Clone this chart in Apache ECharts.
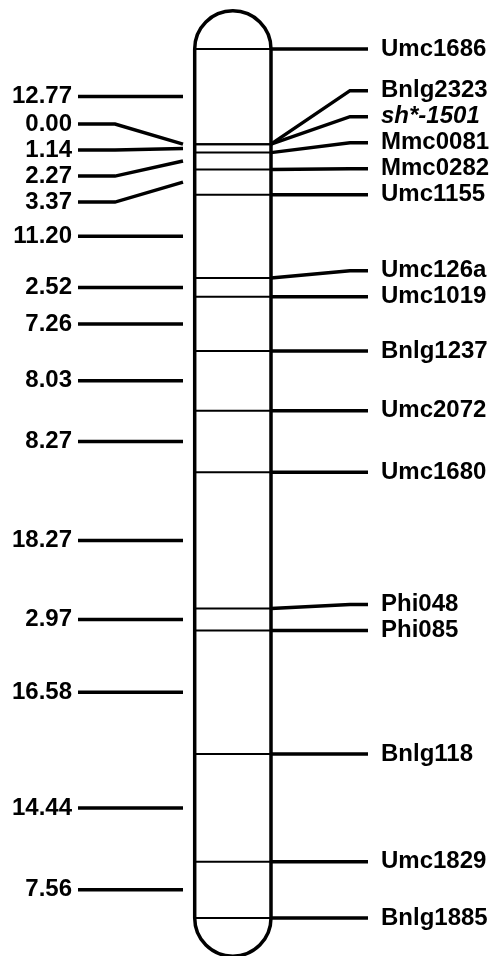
<!DOCTYPE html>
<html>
<head>
<meta charset="utf-8">
<script src="https://cdn.jsdelivr.net/npm/echarts@6/dist/echarts.min.js"></script>
<style>
  html, body { margin: 0; padding: 0; background: #fff; }
  #chart { width: 491px; height: 956px; }
</style>
</head>
<body>
<div id="chart"></div>
<script>
// markers from top to bottom of the chromosome
const markerNames = ['Umc1686', 'Bnlg2323', 'sh*-1501', 'Mmc0081', 'Mmc0282', 'Umc1155',
  'Umc126a', 'Umc1019', 'Bnlg1237', 'Umc2072', 'Umc1680', 'Phi048', 'Phi085',
  'Bnlg118', 'Umc1829', 'Bnlg1885']
// genetic distance (cM) between neighbouring markers
const intervals = [12.77, 0.00, 1.14, 2.27, 3.37, 11.20, 2.52, 7.26, 8.03, 8.27,
  18.27, 2.97, 16.58, 14.44, 7.56]
const italicMarkers = ['sh*-1501']

// cumulative map position of each marker
const positions = [0]
intervals.forEach((d, i) => positions.push(+(positions[i] + d).toFixed(2)))
const total = positions[positions.length - 1]
// interval labels sit half way between their two markers
const intervalMids = intervals.map((d, i) => (positions[i] + positions[i + 1]) / 2)

// layout (pixels along the hidden x axis)
const CHR_L = 194.7, CHR_R = 271
const R_BEND = 350, R_END = 368, R_TEXT = 381
const L_TEXT = 72, L_START = 78, L_BEND = 115, L_END = 183
const GAP = 26
const FONT = 'Liberation Sans, Arial, sans-serif'

// right side: labels pushed upward from the bottom when crowded
function stackUp (ys) {
  const out = ys.slice()
  for (let i = out.length - 2; i >= 0; i--) {
    out[i] = Math.min(ys[i], out[i + 1] - GAP)
  }
  return out
}

// left side: crowded labels spread around the middle of their cluster
function spreadCentered (ys) {
  const groups = ys.map(y => ({ ys: [y] }))
  const place = g => {
    const c = (g.ys[0] + g.ys[g.ys.length - 1]) / 2
    return g.ys.map((y, k) => c - (g.ys.length - 1) * GAP / 2 + k * GAP)
  }
  let merged = true
  while (merged) {
    merged = false
    for (let i = 0; i < groups.length - 1; i++) {
      const a = place(groups[i]), b = place(groups[i + 1])
      if (b[0] - a[a.length - 1] < GAP - 0.01) {
        groups[i] = { ys: groups[i].ys.concat(groups[i + 1].ys) }
        groups.splice(i + 1, 1)
        merged = true
        break
      }
    }
  }
  return [].concat(...groups.map(place))
}

const textStyle = (text, x, y, align, italic) => ({
  type: 'text',
  x: x, y: y,
  style: {
    text: text, fill: '#000',
    fontSize: 24, fontWeight: 'bold', fontFamily: FONT,
    fontStyle: italic ? 'italic' : 'normal',
    align: align, verticalAlign: 'middle'
  }
})

const chart = echarts.init(document.getElementById('chart'))
chart.setOption({
  animation: false,
  grid: { left: 0, right: 0, top: 49, bottom: 38 },
  xAxis: { type: 'value', min: 0, max: 491, show: false },
  yAxis: { type: 'value', inverse: true, min: 0, max: total, show: false },
  series: [
    {
      // chromosome outline
      type: 'custom',
      data: [[0, total]],
      renderItem (params, api) {
        const top = api.coord([0, 0])[1]
        const bot = api.coord([0, api.value(1)])[1]
        const l = api.coord([CHR_L, 0])[0], r = api.coord([CHR_R, 0])[0]
        const rad = (r - l) / 2
        return {
          type: 'rect',
          shape: { x: l, y: top - rad, width: r - l, height: bot - top + 2 * rad, r: rad },
          style: { fill: 'none', stroke: '#000', lineWidth: 3.5 }
        }
      }
    },
    {
      // markers
      type: 'custom',
      data: positions.map(p => [0, p]),
      renderItem (params, api) {
        const i = params.dataIndex
        const ys = positions.map(p => api.coord([0, p])[1])
        const ly = stackUp(ys)
        const x = v => api.coord([v, 0])[0]
        const y = ys[i], yl = ly[i]
        return {
          type: 'group',
          children: [
            { type: 'line', shape: { x1: x(CHR_L), y1: y, x2: x(CHR_R), y2: y },
              style: { stroke: '#000', lineWidth: 2 } },
            { type: 'polyline', shape: { points: [[x(CHR_R), y], [x(R_BEND), yl], [x(R_END), yl]] },
              style: { stroke: '#000', lineWidth: 3.5, fill: 'none' } },
            textStyle(markerNames[i], x(R_TEXT), yl, 'left', italicMarkers.includes(markerNames[i]))
          ]
        }
      }
    },
    {
      // interval distances
      type: 'custom',
      data: intervalMids.map((m, i) => [intervals[i], m]),
      renderItem (params, api) {
        const i = params.dataIndex
        const ys = intervalMids.map(m => api.coord([0, m])[1])
        const ly = spreadCentered(ys)
        const x = v => api.coord([v, 0])[0]
        const y = ys[i], yl = ly[i]
        return {
          type: 'group',
          children: [
            { type: 'polyline', shape: { points: [[x(L_START), yl], [x(L_BEND), yl], [x(L_END), y]] },
              style: { stroke: '#000', lineWidth: 3.5, fill: 'none' } },
            textStyle(intervals[i].toFixed(2), x(L_TEXT), yl, 'right', false)
          ]
        }
      }
    }
  ]
})
</script>
</body>
</html>
